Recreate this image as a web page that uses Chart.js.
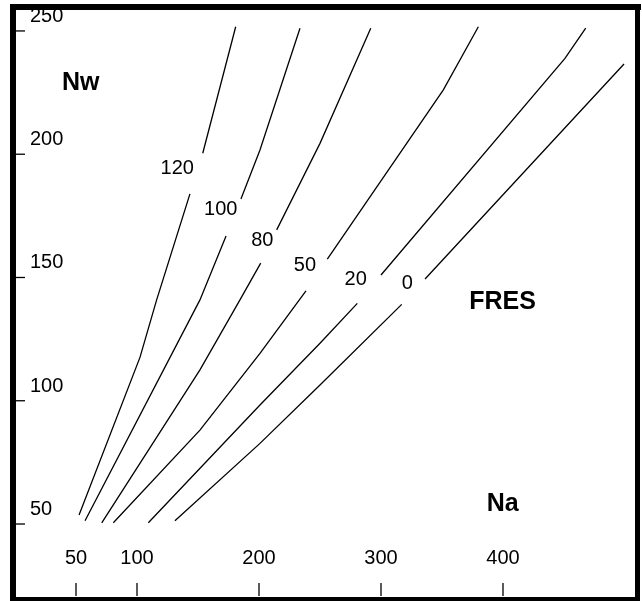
<!DOCTYPE html>
<html>
<head>
<meta charset="utf-8">
<script src="https://cdn.jsdelivr.net/npm/chart.js@4/dist/chart.umd.min.js"></script>
<style>
  body { margin: 0; background: #fff; }
  #wrap { width: 642px; height: 601px; }
</style>
</head>
<body>
<div id="wrap"><canvas id="fres" width="642" height="601"></canvas></div>
<script>
// contour lines, Na on x, Nw on y; null = gap where the label sits
const na120 = [52.5, 102.5, 116.1, 143.4, null, 153.9, 180.9]
const nw120 = [53.7, 117.7, 140.9, 183.9, null, 200.4, 251.7]
const na100 = [57.4, 151.6, 173.0, null, 185.2, 200.8, 233.6]
const nw100 = [51.3, 140.9, 166.8, null, 181.8, 201.7, 251.1]
const na80 = [71.1, 151.6, 184.4, 201.4, null, 214.5, 250.0, 291.6]
const nw80 = [50.5, 112.5, 140.9, 155.8, null, 169.3, 204.4, 251.1]
const na50 = [80.6, 151.6, 200.8, 238.5, null, 256.0, 351.1, 379.8]
const nw50 = [50.5, 88.1, 119.2, 144.6, null, 157.4, 226.1, 251.7]
const na20 = [109.3, 200.8, 250.0, 280.6, null, 300.0, 450.8, 467.8]
const nw20 = [50.5, 98.3, 123.3, 139.5, null, 151.0, 238.9, 251.1]
const na0 = [131.1, 200.8, 250.0, 317.0, null, 336.1, 499.2]
const nw0 = [51.3, 82.7, 106.4, 139.1, null, 149.4, 236.6]

// contour values and where their labels sit (Na, Nw)
const contourNames = ['120', '100', '80', '50', '20', '0']
const labelNa = [133.0, 168.6, 202.7, 237.7, 279.3, 321.6]
const labelNw = [194.9, 178.3, 165.5, 155.5, 149.7, 148.3]

// axis ticks
const xTicks = [50, 100, 200, 300, 400]
const yTicks = [50, 100, 150, 200, 250]

// words inside the frame
const words = ['Nw', 'FRES', 'Na']
const wordNa = [53.9, 399.6, 399.8]
const wordNw = [229.8, 140.9, 58.8]

const toPoints = (xs, ys) => xs.map((x, i) => ({
    x: x === null ? xs[i + 1] : x,
    y: ys[i]
}))

const curves = [
    [na120, nw120], [na100, nw100], [na80, nw80],
    [na50, nw50], [na20, nw20], [na0, nw0]
]

const datasets = curves.map((c, i) => ({
    label: contourNames[i],
    data: toPoints(c[0], c[1]),
    borderColor: '#000',
    borderWidth: 1.3,
    pointRadius: 0,
    tension: 0,
    spanGaps: false
}))

const FONT = '"Liberation Sans", Arial, sans-serif'

const framePlugin = {
    id: 'framePlugin',
    afterDraw(chart) {
        const ctx = chart.ctx
        const xs = chart.scales.x
        const ys = chart.scales.y
        const area = chart.chartArea
        ctx.save()

        // ticks
        ctx.strokeStyle = '#000'
        ctx.lineWidth = 1.3
        ctx.fillStyle = '#000'
        ctx.font = '20px ' + FONT
        ctx.textAlign = 'left'
        ctx.textBaseline = 'alphabetic'
        yTicks.forEach((v) => {
            const py = ys.getPixelForValue(v)
            ctx.beginPath()
            ctx.moveTo(area.left, py)
            ctx.lineTo(area.left + 9, py)
            ctx.stroke()
            ctx.fillText(String(v), area.left + 14, py - 9)
        })
        ctx.textAlign = 'center'
        xTicks.forEach((v) => {
            const px = xs.getPixelForValue(v)
            ctx.beginPath()
            ctx.moveTo(px, area.bottom)
            ctx.lineTo(px, area.bottom - 13)
            ctx.stroke()
            ctx.fillText(String(v), px, area.bottom - 32)
        })

        // contour labels
        contourNames.forEach((name, i) => {
            const px = xs.getPixelForValue(labelNa[i])
            const py = ys.getPixelForValue(labelNw[i])
            ctx.fillText(name, px, py + 7)
        })

        // bold words
        ctx.font = 'bold 25px ' + FONT
        words.forEach((w, i) => {
            const px = xs.getPixelForValue(wordNa[i])
            const py = ys.getPixelForValue(wordNw[i])
            ctx.fillText(w, px, py + 9)
        })

        // heavy frame
        ctx.fillStyle = '#000'
        ctx.fillRect(area.left - 6, area.top - 6, area.right - area.left + 12, 6)
        ctx.fillRect(area.left - 6, area.top - 6, 6, area.bottom - area.top + 12)
        ctx.fillRect(area.right, area.top - 6, 5, area.bottom - area.top + 12)
        ctx.fillRect(area.left - 6, area.bottom + 1, area.right - area.left + 11, 6)
        ctx.restore()
    }
}

const fresChart = new Chart(document.getElementById('fres'), {
    type: 'line',
    data: { datasets: datasets },
    options: {
        responsive: false,
        animation: false,
        devicePixelRatio: 1,
        layout: { padding: { left: 16, top: 10, right: 7, bottom: 5 } },
        plugins: { legend: { display: false }, tooltip: { enabled: false } },
        scales: {
            x: { type: 'linear', min: 0.82, max: 508.2, display: false },
            y: { type: 'linear', min: 20.8, max: 258.5, display: false }
        }
    },
    plugins: [framePlugin]
})
</script>
</body>
</html>
